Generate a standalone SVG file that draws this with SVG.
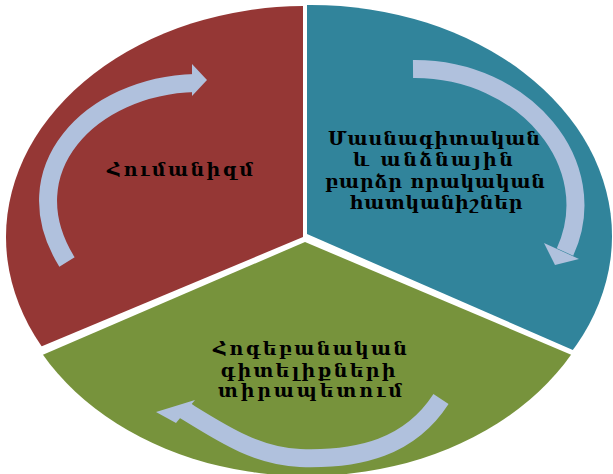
<svg xmlns="http://www.w3.org/2000/svg" width="613" height="474" viewBox="0 0 613 474">
  <style>
    .lbl { font-family: "DejaVu Serif", "DejaVu Sans", serif; font-size: 19px; font-weight: bold; fill: #000; text-anchor: middle; }
    .body { fill: none; stroke: #B0C1DD; stroke-width: 18; stroke-linecap: butt; }
    .head { fill: #B0C1DD; }
  </style>
  <defs>
    <clipPath id="clip-red"><polygon points="303,237 303,-10 -10,-10 -10,368"/></clipPath>
    <clipPath id="clip-blue"><polygon points="307,234 307,-10 630,-10 630,375"/></clipPath>
    <clipPath id="clip-green"><polygon points="305,242 -10,377.5 -10,500 630,500 630,379.7"/></clipPath>
  </defs>
  <rect width="613" height="474" fill="#ffffff"/>
  <g id="node-humanism">
    <ellipse cx="306" cy="237" rx="300" ry="231" fill="#953735" clip-path="url(#clip-red)"/>
    <text class="lbl" x="180" y="176" textLength="146" lengthAdjust="spacing">Հումանիզմ</text>
  </g>
  <g id="node-qualities">
    <ellipse cx="311" cy="236" rx="301" ry="231" fill="#31849B" clip-path="url(#clip-blue)"/>
    <text class="lbl" x="434" y="145" textLength="212" lengthAdjust="spacing">Մասնագիտական</text>
    <text class="lbl" x="433" y="166" textLength="160" lengthAdjust="spacing">և անձնային</text>
    <text class="lbl" x="435" y="188" textLength="220" lengthAdjust="spacing">բարձր որակական</text>
    <text class="lbl" x="436" y="209" textLength="173" lengthAdjust="spacing">հատկանիշներ</text>
  </g>
  <g id="node-psychology">
    <ellipse cx="307" cy="245" rx="300" ry="231" fill="#77933C" clip-path="url(#clip-green)"/>
    <text class="lbl" x="310" y="355" textLength="194" lengthAdjust="spacing">Հոգեբանական</text>
    <text class="lbl" x="308" y="377" textLength="175" lengthAdjust="spacing">գիտելիքների</text>
    <text class="lbl" x="310" y="397" textLength="184" lengthAdjust="spacing">տիրապետում</text>
  </g>
  <g id="connectors">
    <path class="body" d="M67,262 C 10,170 90,86 195,83"/>
    <polygon class="head" points="192,64 207,80 192,96"/>
    <path class="body" d="M413,69 C 525,68 605,165 565,252"/>
    <polygon class="head" points="544,243 579,259 555,265"/>
    <path class="body" d="M441,399 C 410,447 360,460 300,458 C 255,456 220,432 184,410"/>
    <polygon class="head" points="195,400 156,412 176,423"/>
  </g>
</svg>
